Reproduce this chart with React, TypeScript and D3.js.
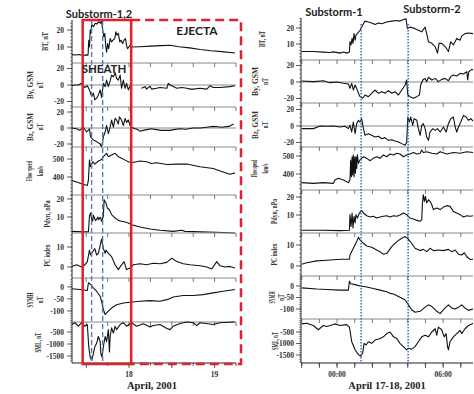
import React from "react";
import * as d3 from "d3";

type P = [number, number];

// ---------- LEFT: hours since 2001-04-17 00:00 ----------
const leftBT: P[] = [[8,5.5],[9,5.3],[10,5.6],[11,5],[12,5.4],[12.5,5.2],[12.7,14],[12.9,10],[13.1,20],[13.3,18],[13.5,23],[14,22],[14.5,24],[15,23.5],[15.5,25],[16,24],[16.3,25.5],[16.6,20],[16.9,16],[17.2,18],[17.5,10],[17.7,7],[18,12],[18.3,9],[18.7,15],[19.1,13],[19.5,14],[20,15],[20.3,19],[20.6,17],[21,18],[21.4,13],[21.8,14],[22.2,12],[22.6,14],[23,15],[23.3,11],[23.6,9],[23.9,10],[24.3,11],[24.7,10],[27,10.2],[30,10.5],[33,10.8],[35.5,11],[38,10.2],[41,9.5],[44,8.5],[47,7.8],[50,7.3],[53.7,6.5]];
const leftBy: P[] = [[8,-1],[8.8,0],[9.8,0],[10.7,2],[11.6,-3],[12.3,-1],[12.9,-6],[13.5,-14],[14,-10],[14.4,-18],[14.9,-16],[15.4,-12],[15.9,-6],[16.3,-15],[16.8,2],[17.3,-2],[17.7,6],[18.2,-2],[18.7,5],[19.1,12],[19.6,10],[20.1,15],[20.5,8],[21,6],[21.5,12],[21.9,-4],[22.4,6],[22.9,-4],[23.3,2],[23.8,-6],[24.3,-1],[24.7,-3],[26,NaN],[27.5,-4],[28.5,-2],[28.9,-5],[29.9,-1.5],[30.3,-5],[31.7,-4],[32.7,-3],[34.6,-4],[35,2],[35.5,0],[36,-1],[37.4,-4],[38.8,-3],[40.2,-4],[41.1,-5],[42,-5],[43.9,-4],[45.8,-5],[46.7,-1],[47.6,-3],[49.5,-3],[52.3,-2],[53.7,-1]];
const leftBz: P[] = [[8,0],[9.3,-1],[10.2,-3],[11.2,1],[12.1,-5],[12.9,-1],[13.2,-11],[14,-15],[14.9,-17],[15.9,-20],[16.3,-24],[16.8,-11],[17.3,-5],[17.7,3],[18.2,-7],[18.7,1],[19.1,10],[19.6,1],[20.1,12],[20.5,10],[21,5],[21.3,14],[21.9,10],[22.4,3],[22.9,12],[23.3,7],[23.8,10],[24.3,3],[24.7,1],[25.7,-1],[26.5,-2],[27,-4],[28,-3],[29,-2],[30.3,-1],[31.7,-2],[33,-3],[35.5,-3],[36.5,-2],[38.3,-1],[40,-1.5],[42,0],[44,0],[45.8,1],[47.6,2],[49,1.5],[50,1],[52,2],[53.3,5]];
const leftFlow: P[] = [[8,381],[9.3,372],[10.7,362],[11.6,357],[12.3,353],[12.6,381],[12.9,494],[13.2,457],[13.8,485],[14.4,472],[15.4,489],[16.3,498],[16.8,513],[17.7,532],[18.2,513],[19.1,523],[20.1,532],[21,513],[21.9,504],[22.9,494],[23.8,485],[24.7,479],[27.1,489],[28.9,485],[30.3,475],[31.7,479],[34.6,470],[37.4,472],[40.2,472],[43.9,457],[47.6,447],[50.4,428],[52.3,415],[53.7,423]];
const leftPdyn: P[] = [[8,2],[11.2,1.7],[12.6,1.7],[12.9,10.4],[13.2,12.2],[13.5,9],[13.8,7.6],[14,11],[14.3,9.4],[14.6,8],[14.9,8.5],[15.2,10],[15.5,8.5],[15.7,9.4],[16,9.8],[16.3,7.6],[16.8,10.4],[17,19.6],[17.5,17.8],[17.9,15],[18.5,14],[19.1,11.3],[20.1,9.4],[21,8.1],[21.9,7.6],[22.9,7.2],[23.8,6.7],[24.7,5.7],[27.1,4.4],[29.9,3.3],[32.7,2.6],[36.4,2],[38.8,2.6],[39.7,2],[43.9,1.7],[48.6,1.5],[53.7,1.1]];
const leftPC: P[] = [[8,0.3],[9.3,1.1],[10.7,0],[11.6,1.1],[12.3,2.7],[12.9,8.4],[13.2,6],[13.8,7.6],[14.4,9.2],[14.9,6],[15.4,6.8],[15.9,10.8],[16.3,14],[16.8,9.2],[17.3,6.8],[17.5,8.4],[18.2,6.8],[19.1,5.2],[20.1,1.1],[21,-1.3],[21.9,1.1],[22.6,2.7],[23.3,-1.3],[24.3,-0.5],[25.2,1.1],[27.1,1.6],[28.9,1.1],[30.8,1.9],[32.7,1.6],[34.6,2.3],[36,4.4],[37.4,2.7],[39.2,1.6],[41.1,1.1],[43.9,0.6],[45.8,0],[47.2,-1],[48.6,2.7],[49.5,0.6],[50.9,0],[52.3,0.3],[53.7,-0.5]];
const leftSYMH: P[] = [[8,-8],[10.2,-11],[12.3,-15],[12.6,17],[13.1,12],[14,-4],[14.9,-18],[15.9,-39],[16.3,-60],[16.8,-94],[17.3,-115],[17.7,-108],[18.2,-101],[19.1,-88],[20.5,-74],[22.4,-67],[24.3,-64],[27.1,-60],[29.9,-57],[32.7,-60],[34.6,-53],[36.4,-42],[39.2,-36],[42,-36],[44.8,-32],[47.6,-25],[50.4,-18],[53.7,-11]];
const leftSML: P[] = [[8,-186],[8.8,-114],[9.8,-257],[10.7,-114],[11.6,-257],[12.3,-186],[12.7,-1114],[13.1,-1543],[13.5,-1686],[14,-1400],[14.4,-1114],[14.9,-971],[15.4,-686],[15.9,-900],[16.1,-1400],[16.4,-1543],[16.8,-1114],[17.3,-686],[17.7,-900],[18.2,-400],[18.5,-1330],[18.7,-686],[19.1,-329],[19.6,-543],[20.1,-257],[20.5,-400],[21.5,-186],[22.4,-114],[23.3,-257],[24.7,-114],[26.1,-257],[28,-157],[29.9,-286],[30.8,-229],[32.7,-186],[34.6,-357],[35.5,-400],[36.4,-257],[38.3,-143],[40.2,-86],[42,-114],[43,-229],[43.9,-114],[47.6,-186],[49.5,-114],[53.7,-86]];

// ---------- RIGHT: hours since 2001-04-18 00:00 ----------
const rightBT: P[] = [[-2,5.3],[-1.34,5.3],[-0.78,4.9],[-0.4,4.7],[-0.21,5.1],[0.17,4.3],[0.36,5],[0.54,4.3],[0.7,5],[0.73,11.4],[0.79,9.4],[0.85,13.5],[0.9,10.4],[0.96,16.5],[1.02,12.4],[1.07,15.5],[1.15,16.5],[1.3,18.6],[1.49,22.7],[1.58,24.3],[1.77,23.7],[1.96,23.1],[2.15,22.2],[2.34,23.1],[2.53,22.7],[2.81,23.7],[3.09,24.3],[3.38,24.7],[3.56,24.3],[3.75,25.3],[3.9,25.7],[3.98,19.6],[4.13,20.6],[4.41,19.6],[4.6,18.6],[4.79,17.6],[4.98,20.6],[5.07,16.5],[5.17,11.4],[5.36,10.4],[5.55,8.4],[5.68,4.3],[5.77,10.4],[5.92,10.4],[6.11,8.4],[6.3,5.3],[6.43,11.4],[6.58,9.4],[6.77,13.5],[6.96,12.4],[7.05,14.9],[7.24,16.5],[7.43,16.9],[7.69,16.5]];
const rightBy: P[] = [[-2,1.2],[-1.34,0.4],[-0.78,1.6],[-0.4,-0.8],[-0.02,0],[0.36,-1.6],[0.64,-2.4],[0.73,-7.7],[0.83,-1.6],[0.92,-9.7],[1.02,-3.6],[1.11,-7.7],[1.21,-13.7],[1.3,-17.8],[1.45,-19.8],[1.58,-15.8],[1.77,-17.8],[1.96,-13.7],[2.15,-9.7],[2.34,-13.7],[2.53,-11.7],[2.71,-13.7],[2.9,-10.5],[3.09,-13.7],[3.28,-11.7],[3.47,-15.8],[3.66,-9.7],[3.85,-3.6],[3.94,2.4],[4.0,-15.8],[4.13,-17.8],[4.32,-19.8],[4.51,-17.8],[4.66,-15.8],[4.73,-3.6],[4.85,2.4],[4.98,4.4],[5.07,0.4],[5.17,5.7],[5.36,2.4],[5.55,4.4],[5.73,0.4],[5.92,3.2],[6.11,4.4],[6.3,1.6],[6.43,6.5],[6.58,8.5],[6.77,7.3],[6.96,10.5],[7.15,9.7],[7.34,12.5],[7.39,2.4],[7.45,12.5],[7.62,15.4],[7.69,14.5]];
const rightBz: P[] = [[-2,-3.2],[-1.34,-3.2],[-0.96,0],[-0.59,-0.4],[-0.21,0],[0.17,-1.2],[0.45,-0.4],[0.64,-3.2],[0.73,0.8],[0.83,-7.3],[0.92,4.8],[1.02,-9.3],[1.11,2.8],[1.21,6.9],[1.3,4.8],[1.39,8.9],[1.49,-3.2],[1.58,-11.3],[1.77,-9.3],[1.96,-11.3],[2.15,-13.3],[2.34,-12.5],[2.53,-15.4],[2.71,-14.1],[2.9,-17.4],[3.09,-16.6],[3.28,-18.2],[3.47,-19.4],[3.66,-21.4],[3.85,-23.4],[3.94,-19.4],[4.0,10.9],[4.09,4.8],[4.17,10.9],[4.28,0.8],[4.36,8.9],[4.51,6.9],[4.6,-3.2],[4.7,-11.3],[4.79,0.8],[4.88,2.8],[4.98,-3.2],[5.07,-13.3],[5.17,-17.4],[5.26,-7.3],[5.41,-3.2],[5.55,-5.3],[5.68,-3.2],[5.83,-7.3],[6.02,-1.2],[6.17,-7.3],[6.3,2.8],[6.43,8.9],[6.58,10.9],[6.68,-1],[6.77,-7.3],[6.87,-1.2],[7.0,4.8],[7.15,12.9],[7.3,10.9],[7.43,6.9],[7.57,8.9],[7.69,6]];
const rightFlow: P[] = [[-2,352],[-1.34,348],[-0.78,352],[-0.21,348],[-0.12,367],[0.07,376],[0.36,367],[0.64,352],[0.73,367],[0.77,478],[0.81,385],[0.85,496],[0.88,394],[0.92,506],[0.96,385],[1.0,496],[1.04,404],[1.07,496],[1.11,431],[1.15,506],[1.21,459],[1.3,478],[1.49,496],[1.68,487],[1.87,474],[2.05,487],[2.24,496],[2.43,487],[2.62,506],[2.81,496],[3.0,511],[3.19,506],[3.38,515],[3.56,511],[3.75,496],[3.94,506],[4.13,511],[4.32,519],[4.51,511],[4.7,515],[4.79,533],[4.88,519],[5.07,524],[5.36,515],[5.64,511],[5.83,524],[6.21,511],[6.58,519],[6.96,515],[7.34,524],[7.69,519]];
const rightPdyn: P[] = [[-2,1.5],[-0.78,1.5],[0.17,1.3],[0.7,1.5],[0.73,10.2],[0.79,3.7],[0.85,11.1],[0.9,2.8],[0.96,9.3],[1.02,5.6],[1.07,10.2],[1.15,8.3],[1.26,11.1],[1.39,12.6],[1.49,11.1],[1.68,9.6],[1.87,8.9],[2.05,9.3],[2.24,8.3],[2.43,8.9],[2.62,9.3],[2.81,9.6],[3.0,8.9],[3.19,9.6],[3.38,9.3],[3.56,10],[3.75,11.1],[3.94,10.2],[4.13,8.3],[4.32,7.8],[4.51,7],[4.7,6.5],[4.79,7.4],[4.83,16.7],[4.88,21.3],[4.94,17.6],[5.0,20.4],[5.07,16.7],[5.17,18.5],[5.26,17.6],[5.36,15.7],[5.45,13],[5.64,13.9],[5.83,13],[6.02,14.4],[6.21,15.2],[6.39,14.8],[6.58,12],[6.77,11.1],[6.96,10.2],[7.15,8.9],[7.34,9.6],[7.53,9.3],[7.69,9.6]];
const rightPC: P[] = [[-2,0.8],[-1.72,1.5],[-1.15,2.4],[-0.59,2.7],[-0.02,3.1],[0.36,3.2],[0.7,3.2],[0.73,5.2],[0.92,8.4],[1.11,11.6],[1.21,13.7],[1.3,12.4],[1.49,10.8],[1.68,9.5],[1.96,8.9],[2.24,7.6],[2.43,6.8],[2.62,5.6],[2.81,5.9],[3.09,9.2],[3.38,11.6],[3.66,13.2],[3.85,14],[4.04,12.7],[4.22,10.8],[4.41,8.4],[4.7,7.3],[4.88,7.9],[5.07,6.8],[5.26,8.4],[5.45,7.3],[5.73,7.6],[6.02,7.3],[6.3,7.9],[6.49,6.8],[6.68,7.6],[6.87,5.6],[7.05,5.2],[7.2,6.3],[7.34,4.4],[7.53,3.1],[7.69,3.2]];
const rightSYMH: P[] = [[-2,-8],[-1.15,-13],[-0.59,-15],[0.17,-18],[0.64,-18],[0.7,21],[0.77,10],[1.02,6],[1.3,0],[1.68,-4],[2.05,-11],[2.43,-18],[2.81,-25],[3.0,-32],[3.19,-35],[3.56,-49],[3.85,-61],[4.04,-82],[4.22,-103],[4.41,-114],[4.7,-110],[4.98,-92],[5.17,-82],[5.36,-89],[5.64,-110],[5.83,-120],[6.02,-103],[6.21,-89],[6.3,-82],[6.49,-96],[6.68,-100],[6.87,-92],[7.05,-82],[7.24,-96],[7.43,-106],[7.69,-100]];
const rightSML: P[] = [[-2,-148],[-1.72,-120],[-1.34,-218],[-1.06,-401],[-0.78,-218],[-0.59,-260],[-0.4,-218],[-0.12,-148],[0.17,-218],[0.54,-180],[0.7,-289],[0.83,-922],[1.02,-1274],[1.21,-1486],[1.34,-1556],[1.45,-1415],[1.53,-993],[1.64,-1063],[1.77,-922],[1.96,-993],[2.15,-852],[2.43,-782],[2.62,-711],[2.81,-570],[3.0,-500],[3.19,-711],[3.38,-782],[3.56,-993],[3.75,-1134],[3.94,-1274],[4.04,-1204],[4.22,-1246],[4.41,-1134],[4.6,-922],[4.79,-711],[4.98,-641],[5.17,-711],[5.36,-500],[5.55,-359],[5.64,-641],[5.73,-289],[5.92,-401],[6.06,-711],[6.17,-570],[6.25,-1134],[6.3,-1274],[6.39,-922],[6.58,-711],[6.77,-570],[6.87,-500],[6.96,-430],[7.05,-570],[7.24,-359],[7.43,-218],[7.62,-148],[7.69,-120]];

// ---------- axes, labels, annotations ----------
const panelLabels: string[][] = [["BT, nT"], ["By, GSM", "nT"], ["Bz, GSM", "nT"], ["Flow speed", "km/s"], ["Pdyn, nPa"], ["PC index"], ["SYMH", "nT"], ["SML, nT"]];
const yTickValues: number[][] = [[10, 20], [-20, 0, 20], [-20, 0, 20], [400, 500], [10, 20], [0, 10], [-100, -50, 0], [-1500, -1000, -500]];
const yMinorSteps = [2, 5, 5, 20, 2, 2, 10, 100];
const zeroLinePanels = [1, 2];
const leftDomains: [number, number][] = [[0.6, 25.9], [-26.7, 26.7], [-23.75, 26.25], [300, 567], [1.1, 22.2], [-5.5, 17], [-146, 37], [-1790, -83]];
const rightDomains: [number, number][] = [[0, 26.25], [-25.5, 26.7], [-25.5, 27.9], [311, 550], [0, 23.9], [-4.8, 15.7], [-143.5, 43.5], [-1848, 65]];
const leftTime: [number, number] = [8, 54];
const rightTime: [number, number] = [-2.04, 7.69];
const leftMajorTicks = [12, 24, 36, 48];
const leftMinorTicks = [12, 18, 24, 30, 36, 42, 48, 54];
const leftTickLabels: [number, string][] = [[24, "18"], [48, "19"]];
const rightMinorTicks = [-2, -1, 0, 1, 2, 3, 4, 5, 6, 7];
const rightTickLabels: [number, string][] = [[0, "00:00"], [6, "06:00"]];
const sheathSpan: [number, number] = [11, 24.6];
const ejectaSpan: [number, number] = [24.6, 55.4];
const leftSubstorms = [13.5, 16.6];
const rightSubstorms = [1.36, 4.02];

const leftSeries = [leftBT, leftBy, leftBz, leftFlow, leftPdyn, leftPC, leftSYMH, leftSML];
const rightSeries = [rightBT, rightBy, rightBz, rightFlow, rightPdyn, rightPC, rightSYMH, rightSML];

type LabelPos = { x: number; len: number }[];

const SERIF = "'Liberation Serif', 'Times New Roman', serif";
const SANS = "Lato, 'Liberation Sans', sans-serif";

function Stack(props: {
  x0: number; x1: number; bounds: number[]; time: [number, number]; series: P[][]; domains: [number, number][];
  tickLabelX: number; labelPos: LabelPos[]; minor: number[]; major: number[]; xLabels: [number, string][];
}) {
  const { x0, x1, bounds, time, series, domains, tickLabelX, labelPos, minor, major, xLabels } = props;
  const x = d3.scaleLinear().domain(time).range([x0, x1]);
  const bottom = bounds[bounds.length - 1];
  return (
    <g>
      {series.map((data, i) => {
        const top = bounds[i], bot = bounds[i + 1];
        const y = d3.scaleLinear().domain(domains[i]).range([bot, top]);
        const line = d3.line<P>().defined((d) => !isNaN(d[1])).x((d) => x(d[0])).y((d) => y(d[1]));
        const mid = (top + bot) / 2;
        const st = yMinorSteps[i];
        const minorY = d3.range(Math.ceil(domains[i][0] / st) * st, domains[i][1], st);
        return (
          <g key={i}>
            {i > 0 && <line x1={x0} x2={x1} y1={top} y2={top} stroke="#8a8a8a" strokeWidth={1} />}
            {i > 0 && minor.map((t) => (
              <line key={t} x1={x(t)} x2={x(t)} y1={top} y2={top + 4} stroke="#555" strokeWidth={0.8} />
            ))}
            {zeroLinePanels.includes(i) && (
              <line x1={x0} x2={x1} y1={y(0)} y2={y(0)} stroke="#8a8a8a" strokeWidth={1} />
            )}
            {minorY.map((v) => (
              <line key={"n" + v} x1={x0 - 2} x2={x0} y1={y(v)} y2={y(v)} stroke="#555" strokeWidth={0.6} />
            ))}
            {yTickValues[i].map((v) => (
              <g key={v}>
                <line x1={x0 - 5} x2={x0} y1={y(v)} y2={y(v)} stroke="#333" strokeWidth={0.8} />
                <text x={tickLabelX} y={y(v)} dy="0.35em" textAnchor="end" fontFamily={SERIF} fontWeight="bold" fontSize={7.5} fill="#333">{v}</text>
              </g>
            ))}
            {panelLabels[i].map((s, k) => (
              <text key={k} transform={`translate(${labelPos[i][k].x},${mid}) rotate(-90)`} textAnchor="middle"
                fontFamily={SERIF} fontWeight="bold" fontSize={9} fill="#333"
                textLength={labelPos[i][k].len} lengthAdjust="spacingAndGlyphs">{s}</text>
            ))}
            <path d={line(data) || ""} fill="none" stroke="#111" strokeWidth={1.1} strokeLinejoin="round" />
          </g>
        );
      })}
      <line x1={x0} x2={x0} y1={bounds[0]} y2={bottom} stroke="#222" strokeWidth={1} />
      <line x1={x0} x2={x1} y1={bottom} y2={bottom} stroke="#222" strokeWidth={1} />
      {minor.map((t) => (
        <line key={"b" + t} x1={x(t)} x2={x(t)} y1={bottom} y2={bottom + 3} stroke="#333" strokeWidth={0.8} />
      ))}
      {major.map((t) => (
        <line key={"m" + t} x1={x(t)} x2={x(t)} y1={bottom} y2={bottom + 5} stroke="#333" strokeWidth={0.8} />
      ))}
      {xLabels.map(([t, s]) => (
        <text key={s} x={x(t)} y={bottom + 14} textAnchor="middle" fontFamily={SERIF} fontWeight="bold" fontSize={7.5} fill="#333">{s}</text>
      ))}
    </g>
  );
}

export default function App() {
  const lb = [20, 63, 107, 147, 195, 233, 278, 322, 363];
  const rb = [18, 60, 103, 147, 190, 233, 276, 319, 363];
  const xl = d3.scaleLinear().domain(leftTime).range([72, 236]);
  const xr = d3.scaleLinear().domain(rightTime).range([301, 473]);
  const leftLabelPos: LabelPos[] = [
    [{ x: 48, len: 19 }], [{ x: 33, len: 28 }, { x: 43, len: 7 }], [{ x: 33, len: 28 }, { x: 43, len: 7 }],
    [{ x: 32, len: 20 }, { x: 43, len: 10 }], [{ x: 50, len: 27 }], [{ x: 50, len: 22 }],
    [{ x: 33, len: 15 }, { x: 43, len: 7 }], [{ x: 41, len: 20 }],
  ];
  const rightLabelPos: LabelPos[] = [
    [{ x: 265, len: 16 }], [{ x: 258, len: 29 }, { x: 268, len: 7 }], [{ x: 258, len: 28 }, { x: 268, len: 7 }],
    [{ x: 257, len: 17 }, { x: 268, len: 10 }], [{ x: 277, len: 25 }], [{ x: 277, len: 22 }],
    [{ x: 275, len: 12 }, { x: 284, len: 7 }], [{ x: 278, len: 18 }],
  ];
  const red = "#e3202b";
  return (
    <svg width={474} height={394} style={{ position: "absolute", left: 0, top: 0, background: "#fff" }}>
      <rect width={474} height={394} fill="#fff" />
      <Stack x0={72} x1={236} bounds={lb} time={leftTime} series={leftSeries} domains={leftDomains}
        tickLabelX={64} labelPos={leftLabelPos} minor={leftMinorTicks} major={leftMajorTicks} xLabels={leftTickLabels} />
      <Stack x0={301} x1={473} bounds={rb} time={rightTime} series={rightSeries} domains={rightDomains}
        tickLabelX={294} labelPos={rightLabelPos} minor={rightMinorTicks} major={rightMinorTicks} xLabels={rightTickLabels} />

      {leftSubstorms.map((t) => (
        <line key={t} x1={xl(t)} x2={xl(t)} y1={20} y2={364} stroke="#4a7cc0" strokeWidth={1.4} strokeDasharray="5,3" />
      ))}
      <rect x={xl(sheathSpan[0])} y={20} width={xl(sheathSpan[1]) - xl(sheathSpan[0])} height={344}
        fill="none" stroke={red} strokeWidth={2.5} />
      <path d={`M${xl(ejectaSpan[0])},20 H${xl(ejectaSpan[1])} V364 H${xl(ejectaSpan[0])}`}
        fill="none" stroke={red} strokeWidth={2.5} strokeDasharray="9,5" />

      {rightSubstorms.map((t) => (
        <line key={t} x1={xr(t)} x2={xr(t)} y1={24} y2={363} stroke="#2a5fb8" strokeWidth={1.4} strokeDasharray="1.4,1.6" />
      ))}

      <text x={99} y={18} textAnchor="middle" fontFamily={SANS} fontWeight="bold" fontSize={11} fill="#222">Substorm-1,2</text>
      <text x={197} y={35} textAnchor="middle" fontFamily={SANS} fontWeight="bold" fontSize={12} fill="#222">EJECTA</text>
      <text x={104} y={73} textAnchor="middle" fontFamily={SANS} fontWeight="bold" fontSize={11.5} fill="#222">SHEATH</text>
      <text x={334} y={16} textAnchor="middle" fontFamily={SANS} fontWeight="bold" fontSize={11} fill="#222">Substorm-1</text>
      <text x={432} y={13} textAnchor="middle" fontFamily={SANS} fontWeight="bold" fontSize={11} fill="#222">Substorm-2</text>

      <text x={152} y={389} textAnchor="middle" fontFamily={SERIF} fontWeight="bold" fontSize={10.5} fill="#222">April, 2001</text>
      <text x={387} y={389} textAnchor="middle" fontFamily={SERIF} fontWeight="bold" fontSize={10.5} fill="#222">April 17-18, 2001</text>
    </svg>
  );
}
